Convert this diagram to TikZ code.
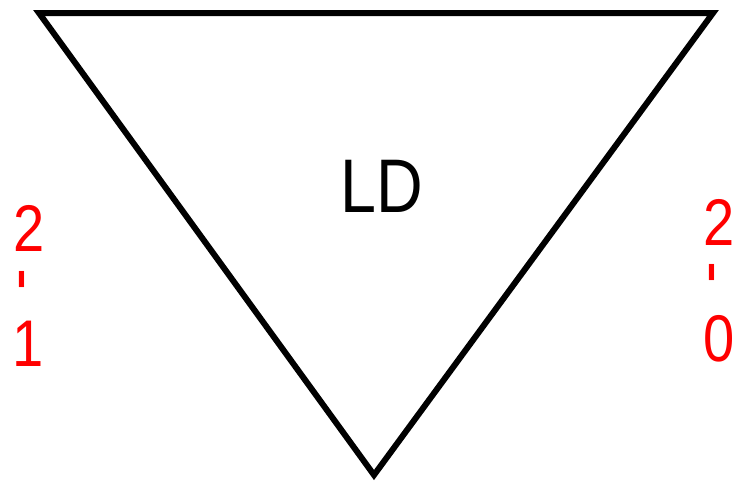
\documentclass[tikz,border=0pt]{standalone}
\usepackage{fontspec}
\setmainfont{Liberation Sans}
\usepackage{graphicx}
\newcommand{\narrow}[1]{\scalebox{0.85}[1]{#1}}
\begin{document}
\begin{tikzpicture}[x=1pt,y=-1pt,
  tri/.style={draw=black,line width=6pt,line join=miter},
  lbl/.style={text=red,inner sep=0pt,font=\fontsize{66}{66}\selectfont},
  ttl/.style={inner sep=0pt,font=\fontsize{76}{76}\selectfont}]
\useasboundingbox (0,0) rectangle (734,483);
\coordinate (A) at (39,13);
\coordinate (B) at (713,13);
\coordinate (C) at (374,475);
\draw[tri] (A) -- (B) -- (C) -- cycle;
\node[ttl] (ld) at (382,186) {\narrow{LD}};
\node[lbl] (l2) at (29,228) {\narrow{2}};
\node[lbl] (ld1) at (29,280) {\rotatebox[origin=c]{90}{-}};
\node[lbl] (l1) at (28,344) {\narrow{1}};
\node[lbl] (r2) at (719,222) {\narrow{2}};
\node[lbl] (rd) at (719,273) {\rotatebox[origin=c]{90}{-}};
\node[lbl] (r0) at (719,339) {\narrow{0}};
\end{tikzpicture}
\end{document}
